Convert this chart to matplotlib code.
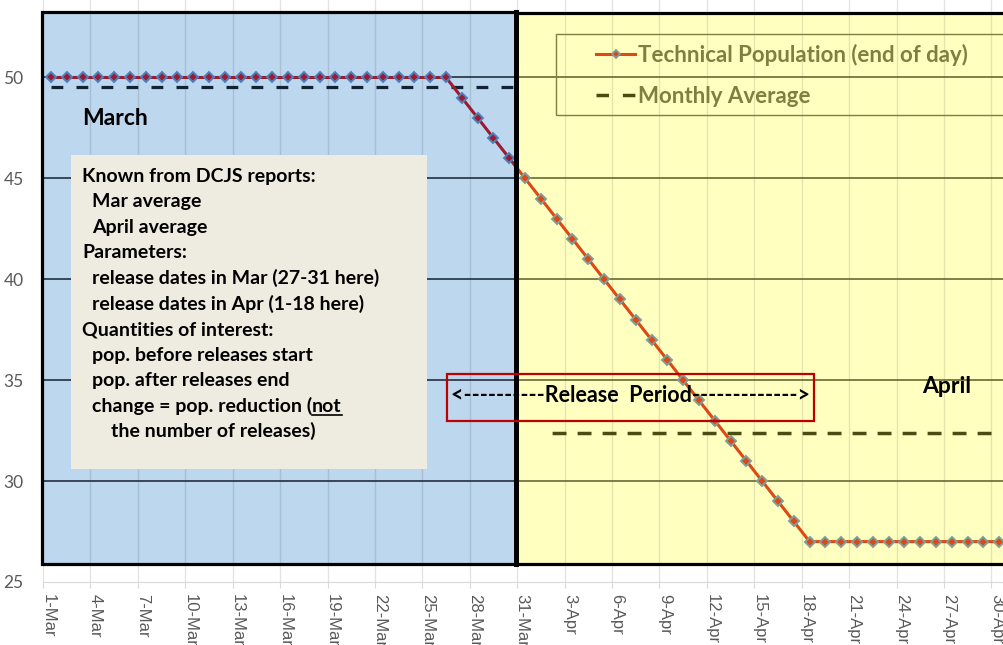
import matplotlib
matplotlib.use("Agg")
import matplotlib.pyplot as plt
import pandas as pd
from matplotlib.patches import Rectangle
from matplotlib.lines import Line2D
from matplotlib.transforms import ScaledTranslation

# ---- data -------------------------------------------------------------
days = pd.date_range("2021-03-01", "2021-04-30")
day_labels = [f"{d.day}-{d.strftime('%b')}" for d in days]

population = ([50] * 26 +                                   # 1-Mar .. 26-Mar
              [49, 48, 47, 46, 45,                          # 27-Mar .. 31-Mar
               44, 43, 42, 41, 40, 39, 38, 37, 36, 35,      # 1-Apr .. 10-Apr
               34, 33, 32, 31, 30, 29, 28, 27] +            # 11-Apr .. 18-Apr
              [27] * 12)                                    # 19-Apr .. 30-Apr

mar_avg = 49.55
apr_avg = 32.4

note_lines = ["Known from DCJS reports:", "  Mar average", "  April average",
              "Parameters:", "  release dates in Mar (27-31 here)",
              "  release dates in Apr (1-18 here)", "Quantities of interest:",
              "  pop. before releases start", "  pop. after releases end"]

W, H = 1004, 645
plt.rcParams["lines.scale_dashes"] = False
fig = plt.figure(figsize=(W / 100, H / 100), dpi=100)
ax = fig.add_axes([43 / W, 1 - 582 / H, (W - 43) / W, 582 / H])

x = list(range(len(days)))
is_mar = [d.month == 3 for d in days]
x_mar = [i for i in x if is_mar[i]]
x_apr = [i for i in x if not is_mar[i]]

ax.set_xlim(-0.5, 60.3)
ax.set_ylim(25, 53.84)

# background panels
blue = Rectangle((-0.55, 25.9), 30.0, 27.35, facecolor="#BDD7EE", edgecolor="none", zorder=1)
yellow = Rectangle((29.45, 25.9), 32, 27.3, facecolor="#FFFFC0", edgecolor="none", zorder=1.1)
ax.add_patch(blue)
ax.add_patch(yellow)

# vertical gridlines every 3 days (category boundaries)
grid_x = [i - 0.5 for i in x[::3]]
for gx in grid_x:
    ax.axvline(gx, color="black", alpha=0.11, lw=1, zorder=1.5)

# horizontal gridlines
for yv in [30, 35, 40, 45, 50]:
    ax.hlines(yv, -0.55, 29.45, color="#16202c", lw=1.1, zorder=1.6)
    ax.hlines(yv, 29.45, 61, color="#5b5b2a", lw=1.1, zorder=1.6)

# monthly averages
l1, = ax.plot([x_mar[0], x_mar[-1]], [mar_avg, mar_avg], color="#0f2236", lw=2.3,
              linestyle=(0, (8.5, 9.5)), zorder=2)
l1.set_clip_path(blue)
ax.plot([x_apr[0], x_apr[-1]], [apr_avg, apr_avg], color="#4b4b14", lw=2.5,
        linestyle=(10, (10, 8)), zorder=2, solid_capstyle="butt")

# technical population, drawn twice: March chart and April chart
pm, = ax.plot(x, population, color="#9b1c31", lw=2.2, marker="D", ms=4.8,
              mfc="#9b1c31", mec="#4f81bd", mew=1.4, zorder=3)
pm.set_clip_path(blue)
pa, = ax.plot(x, population, color="#dd4814", lw=2.2, marker="D", ms=4.8,
              mfc="#dd4814", mec="#7f9e9a", mew=1.4, zorder=3)
pa.set_clip_path(yellow)

# panel borders
ax.add_patch(Rectangle((-0.55, 25.9), 30.0, 27.35, fill=False, edgecolor="black", lw=2.3, zorder=6, clip_on=False))
ax.add_patch(Rectangle((29.45, 25.9), 32, 27.3, fill=False, edgecolor="black", lw=2.3, zorder=6, clip_on=False))
ax.axvline(29.45, ymin=(25.9 - 25) / 28.84, ymax=(53.25 - 25) / 28.84, color="black", lw=3.6, zorder=6)

# axes styling
for s in ["left", "right", "top"]:
    ax.spines[s].set_visible(False)
ax.spines["bottom"].set_color("#d9d9d9")
ax.spines["bottom"].set_zorder(0.5)
ax.set_yticks([25, 30, 35, 40, 45, 50])
ax.tick_params(axis="y", length=0, pad=14, labelsize=12.5, labelcolor="#595959")
ax.set_xticks(grid_x)
ax.set_xticklabels(day_labels[::3], rotation=270, fontsize=12, color="#595959",
                   family="Liberation Sans")
ax.tick_params(axis="x", length=4.5, color="#d9d9d9", pad=4)
offset = ScaledTranslation(5 / 100, 0, fig.dpi_scale_trans)
for lab in ax.get_xticklabels():
    lab.set_transform(lab.get_transform() + offset)
for lab in ax.get_yticklabels():
    lab.set_family("Lato")

# legend
h1 = Line2D([], [], color="#dd4814", lw=2.2, marker="D", ms=4.5, mfc="#dd4814", mec="#7f9e9a", mew=1.3)
h2 = Line2D([], [], color="#4b4b14", lw=2.5, linestyle=(0, (9, 10)))
fig.patches.append(Rectangle((556 / W, 1 - 115 / H), 0.5, 81 / H, transform=fig.transFigure,
                             fill=False, edgecolor="#7f7f40", lw=1, zorder=7))
ax.legend([h1, h2], ["Technical Population (end of day)", "Monthly Average"],
          loc="upper left", bbox_to_anchor=(585 / W, 1 - 33 / H), bbox_transform=fig.transFigure,
          frameon=False, borderpad=0, handlelength=1.75, handletextpad=0.15, labelspacing=0.9,
          prop={"family": "Lato", "weight": "bold", "size": 16}, labelcolor="#7f7f40")

bold = {"family": "Lato", "weight": "bold", "color": "black"}


def px(xp, yp):
    return xp / W, 1 - yp / H


fig.text(*px(82, 125), "March", fontsize=16.5, va="baseline", **bold)
fig.text(*px(922, 393), "April", fontsize=16.5, va="baseline", **bold)

# note box
fs = 14
fig.patches.append(Rectangle(px(71, 469), 356 / W, 314 / H, transform=fig.transFigure,
                             facecolor="#eeece1", edgecolor="none", zorder=4))
for k, line in enumerate(note_lines):
    indent = 10 if line.startswith("  ") else 0
    fig.text(*px(82 + indent, 182 + 25.5 * k), line.strip(), fontsize=fs, va="baseline",
             zorder=5, **bold)

r = fig.canvas.get_renderer()
yb = 182 + 25.5 * 9
t1 = fig.text(*px(92, yb), "change = pop. reduction (", fontsize=fs, va="baseline", zorder=5, **bold)
b1 = t1.get_window_extent(r)
t2 = fig.text(b1.x1 / W, 1 - yb / H, "not", fontsize=fs, va="baseline", zorder=5, **bold)
b2 = t2.get_window_extent(r)
fig.add_artist(Line2D([b2.x0 / W, b2.x1 / W], [1 - (yb + 3) / H] * 2, color="black", lw=1.2, zorder=5))
fig.text(*px(111, yb + 25.5), "the number of releases)", fontsize=fs, va="baseline", zorder=5, **bold)

# release period box
fig.patches.append(Rectangle(px(447, 421), 367 / W, 47 / H, transform=fig.transFigure,
                             fill=False, edgecolor="#c00000", lw=1.6, zorder=7))
fig.text(*px(631, 402), "<----------Release  Period------------->", fontsize=15.5,
         ha="center", va="baseline", zorder=7, **bold)

fig.savefig("out.png", dpi=100)
